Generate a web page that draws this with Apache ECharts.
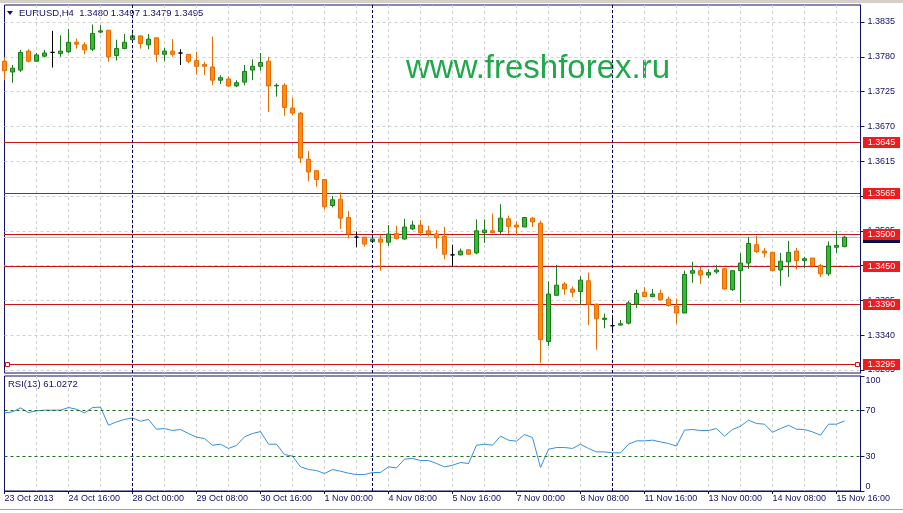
<!DOCTYPE html>
<html>
<head>
<meta charset="utf-8">
<title>EURUSD H4</title>
<script src="https://cdn.jsdelivr.net/npm/echarts@6.0.0/dist/echarts.min.js"></script>
<style>
  html, body { margin: 0; padding: 0; background: #fff; }
  #chart { width: 903px; height: 513px; }
</style>
</head>
<body>
<div id="chart"></div>
<script>
// trading days shown (H4 bars), the first day starts at 08:00
const days = ['23 Oct', '24 Oct', '25 Oct', '28 Oct', '29 Oct', '30 Oct', '31 Oct', '1 Nov', '4 Nov',
  '5 Nov', '6 Nov', '7 Nov', '8 Nov', '11 Nov', '12 Nov', '13 Nov', '14 Nov', '15 Nov'];
const hours = ['00:00', '04:00', '08:00', '12:00', '16:00', '20:00'];
const firstLabel = '23 Oct 2013';

const open = [1.3773, 1.3756, 1.3759, 1.3789, 1.3773, 1.3781, 1.3787, 1.3785, 1.3788, 1.3803,
  1.3799, 1.3792, 1.3819, 1.3822, 1.3782, 1.3793, 1.3807, 1.3813, 1.3799, 1.3810,
  1.3784, 1.3789, 1.3786, 1.3784, 1.3774, 1.3768, 1.3764, 1.3743, 1.3745, 1.3734,
  1.3740, 1.3759, 1.3765, 1.3773, 1.3734, 1.3735, 1.3699, 1.3691, 1.3618, 1.3600,
  1.3586, 1.3545, 1.3555, 1.3526, 1.3495, 1.3495, 1.3488, 1.3492, 1.3487, 1.3501,
  1.3492, 1.3508, 1.3514, 1.3505, 1.3500, 1.3496, 1.3467, 1.3467, 1.3475, 1.3470,
  1.3502, 1.3505, 1.3504, 1.3524, 1.3514, 1.3511, 1.3525, 1.3517, 1.3330, 1.3403,
  1.3421, 1.3413, 1.3409, 1.3426, 1.3389, 1.3365, 1.3355, 1.3356, 1.3359, 1.3389,
  1.3408, 1.3401, 1.3406, 1.3397, 1.3386, 1.3375, 1.3438, 1.3442, 1.3435, 1.3440,
  1.3445, 1.3412, 1.3442, 1.3454, 1.3483, 1.3473, 1.3471, 1.3443, 1.3456, 1.3473,
  1.3458, 1.3462, 1.3450, 1.3437, 1.3479, 1.3480];
const high = [1.3778, 1.3767, 1.3791, 1.3792, 1.3786, 1.3791, 1.3821, 1.3814, 1.3824, 1.3809,
  1.3803, 1.3831, 1.3830, 1.3822, 1.3807, 1.3816, 1.3818, 1.3814, 1.3816, 1.3810,
  1.3794, 1.3808, 1.3792, 1.3784, 1.3788, 1.3772, 1.3812, 1.3751, 1.3749, 1.3743,
  1.3767, 1.3776, 1.3786, 1.3780, 1.3738, 1.3738, 1.3715, 1.3693, 1.3631, 1.3600,
  1.3586, 1.3560, 1.3566, 1.3536, 1.3504, 1.3495, 1.3498, 1.3498, 1.3514, 1.3513,
  1.3524, 1.3521, 1.3522, 1.3513, 1.3506, 1.3511, 1.3483, 1.3477, 1.3476, 1.3523,
  1.3523, 1.3532, 1.3547, 1.3529, 1.3520, 1.3526, 1.3527, 1.3521, 1.3425, 1.3451,
  1.3424, 1.3417, 1.3433, 1.3439, 1.3390, 1.3374, 1.3368, 1.3364, 1.3394, 1.3412,
  1.3416, 1.3413, 1.3412, 1.3401, 1.3398, 1.3442, 1.3456, 1.3448, 1.3444, 1.3451,
  1.3445, 1.3442, 1.3470, 1.3495, 1.3497, 1.3478, 1.3471, 1.3470, 1.3489, 1.3478,
  1.3464, 1.3462, 1.3453, 1.3488, 1.3505, 1.3497];
const low = [1.3743, 1.3739, 1.3756, 1.3771, 1.3772, 1.3779, 1.3763, 1.3780, 1.3786, 1.3793,
  1.3784, 1.3789, 1.3817, 1.3772, 1.3774, 1.3792, 1.3806, 1.3793, 1.3792, 1.3772,
  1.3773, 1.3780, 1.3767, 1.3770, 1.3752, 1.3751, 1.3735, 1.3737, 1.3732, 1.3732,
  1.3735, 1.3743, 1.3758, 1.3693, 1.3717, 1.3687, 1.3688, 1.3612, 1.3583, 1.3575,
  1.3539, 1.3542, 1.3508, 1.3493, 1.3479, 1.3480, 1.3487, 1.3442, 1.3481, 1.3491,
  1.3491, 1.3506, 1.3497, 1.3496, 1.3477, 1.3460, 1.3448, 1.3466, 1.3467, 1.3468,
  1.3486, 1.3501, 1.3500, 1.3500, 1.3498, 1.3511, 1.3511, 1.3296, 1.3323, 1.3403,
  1.3404, 1.3400, 1.3388, 1.3356, 1.3317, 1.3351, 1.3343, 1.3355, 1.3357, 1.3383,
  1.3400, 1.3400, 1.3395, 1.3385, 1.3358, 1.3375, 1.3423, 1.3421, 1.3430, 1.3437,
  1.3412, 1.3410, 1.3391, 1.3445, 1.3470, 1.3463, 1.3442, 1.3418, 1.3432, 1.3444,
  1.3446, 1.3447, 1.3432, 1.3434, 1.3470, 1.3479];
const close = [1.3758, 1.3762, 1.3787, 1.3773, 1.3783, 1.3786, 1.3787, 1.3789, 1.3803, 1.3800,
  1.3791, 1.3817, 1.3821, 1.3780, 1.3793, 1.3803, 1.3813, 1.3801, 1.3808, 1.3784,
  1.3789, 1.3784, 1.3786, 1.3773, 1.3765, 1.3765, 1.3743, 1.3747, 1.3734, 1.3739,
  1.3757, 1.3765, 1.3771, 1.3734, 1.3735, 1.3700, 1.3691, 1.3620, 1.3598, 1.3586,
  1.3543, 1.3554, 1.3525, 1.3500, 1.3495, 1.3484, 1.3492, 1.3487, 1.3500, 1.3493,
  1.3511, 1.3514, 1.3502, 1.3500, 1.3494, 1.3468, 1.3467, 1.3473, 1.3468, 1.3505,
  1.3506, 1.3502, 1.3525, 1.3512, 1.3511, 1.3526, 1.3519, 1.3333, 1.3405, 1.3419,
  1.3413, 1.3408, 1.3427, 1.3389, 1.3366, 1.3367, 1.3355, 1.3358, 1.3391, 1.3406,
  1.3401, 1.3405, 1.3396, 1.3387, 1.3375, 1.3436, 1.3442, 1.3435, 1.3439, 1.3443,
  1.3413, 1.3442, 1.3454, 1.3485, 1.3472, 1.3470, 1.3442, 1.3457, 1.3471, 1.3458,
  1.3461, 1.3450, 1.3437, 1.3481, 1.3482, 1.3495];
const rsi = [67.9, 68.8, 72.3, 68.2, 69.7, 70.3, 70.3, 70.3, 72.6, 71.1,
  67.9, 72.6, 72.9, 57.2, 60.1, 62.2, 63.6, 60.7, 62.2, 53.7,
  54.3, 52.6, 53.5, 50.0, 46.8, 45.6, 39.8, 40.7, 37.0, 39.6,
  47.1, 50.0, 51.7, 40.7, 40.7, 31.7, 30.3, 21.0, 18.7, 17.8,
  15.2, 18.7, 17.2, 15.5, 14.3, 14.3, 16.1, 16.1, 21.0, 20.1,
  27.7, 28.3, 26.5, 26.5, 23.9, 21.0, 22.4, 24.8, 23.9, 39.8,
  40.7, 39.8, 47.7, 44.2, 43.3, 49.1, 46.5, 20.4, 36.3, 37.8,
  37.8, 37.0, 40.7, 37.0, 34.0, 34.0, 33.2, 33.2, 40.7, 43.6,
  43.6, 44.2, 42.7, 41.3, 39.0, 52.9, 53.5, 52.6, 52.6, 54.3,
  47.7, 53.5, 56.3, 61.6, 58.7, 58.1, 51.1, 54.3, 57.2, 53.7,
  53.5, 51.4, 48.5, 58.1, 58.1, 61.0272];

const priceTicks = [1.3835, 1.3780, 1.3725, 1.3670, 1.3615, 1.3560, 1.3505, 1.3450, 1.3395, 1.3340, 1.3285];
const rsiTicks = [0, 30, 70, 100];
const rsiLevels = [70, 30];
const levels = [1.3645, 1.3565, 1.3500, 1.3450, 1.3390, 1.3295];
const selectedLevel = 1.3295;
const weekStarts = ['28 Oct 00:00', '4 Nov 00:00', '11 Nov 00:00'];

// category labels, plus two empty slots for the chart shift on the right
const categories = [];
days.forEach((d, i) => {
  hours.forEach((h, j) => {
    if (i === 0 && j < 2) return;
    categories.push(d + ' ' + h);
  });
});
categories.push('', '');

const navy = '#10106a';
const font = 'Liberation Sans';
const last = open.length - 1;
const bid = close[last];

const candles = open.map((o, i) => [o, close[i], low[i], high[i]]);

const myChart = echarts.init(document.getElementById('chart'));

// horizontal price line with its price tag on the axis, snapped to a pixel row
const priceLines = (values, lineColor, tagColor, z) => ({
  type: 'custom',
  xAxisIndex: 0,
  yAxisIndex: 0,
  data: values.map((v) => [0, v]),
  encode: { x: 0, y: 1 },
  clip: false,
  silent: true,
  z: z,
  renderItem: (params, api) => {
    const cs = params.coordSys;
    const v = api.value(1);
    const y = Math.round(api.coord([0, v])[1]) + 0.5;
    const left = Math.floor(cs.x);
    const right = Math.floor(cs.x + cs.width);
    const children = [
      { type: 'line', shape: { x1: left, y1: y, x2: right, y2: y }, style: { stroke: lineColor, lineWidth: 1 } },
      { type: 'rect', shape: { x: right + 3, y: y - 5.5, width: 37, height: 11 }, style: { fill: tagColor } },
      {
        type: 'text', x: right + 21.5, y: y + 0.5,
        style: { text: v.toFixed(4), fill: '#fff', font: '9px "Liberation Sans"', align: 'center', verticalAlign: 'middle' }
      }
    ];
    if (v === selectedLevel) {
      children.push(
        { type: 'rect', shape: { x: left + 1.5, y: y - 2, width: 4, height: 4 }, style: { fill: '#fff', stroke: lineColor, lineWidth: 1 } },
        { type: 'rect', shape: { x: right - 4.5, y: y - 2, width: 4, height: 4 }, style: { fill: '#fff', stroke: lineColor, lineWidth: 1 } }
      );
    }
    return { type: 'group', children: children };
  }
});

const separators = () => weekStarts.map((d) => ({
  xAxis: d,
  lineStyle: { color: '#000050', type: [3, 2], width: 1 },
  label: { show: false }
}));

const xBase = {
  type: 'category',
  data: categories,
  boundaryGap: false,
  axisLine: { show: false },
  axisTick: { show: false },
  axisLabel: { show: false },
  splitLine: {
    show: true,
    interval: (i) => i > 0 && i % 4 === 0,
    lineStyle: { color: '#cfcfcf', type: [3, 3] }
  }
};

const option = {
  animation: false,
  backgroundColor: '#fff',
  grid: [
    { left: 4.5, top: 5, width: 856, height: 368, show: true, borderColor: navy, borderWidth: 1, backgroundColor: '#fff' },
    { left: 4.5, top: 376, width: 856, height: 115, show: true, borderColor: navy, borderWidth: 1, backgroundColor: '#fff' }
  ],
  xAxis: [
    Object.assign({ gridIndex: 0 }, xBase),
    Object.assign({}, xBase, {
      gridIndex: 1,
      axisLine: { show: true, lineStyle: { color: navy } },
      axisTick: { show: true, interval: 7, length: 3, inside: false, lineStyle: { color: navy } },
      axisLabel: {
        show: true, interval: 7, align: 'left', margin: 3,
        color: navy, fontFamily: font, fontSize: 9,
        formatter: (v, i) => (i === 0 ? firstLabel : v)
      }
    })
  ],
  yAxis: [
    {
      gridIndex: 0, type: 'value', position: 'right',
      min: 1.328026, max: 1.386187,
      axisLine: { show: true, lineStyle: { color: navy } },
      axisTick: { show: true, length: 4, customValues: priceTicks, lineStyle: { color: navy } },
      axisLabel: {
        customValues: priceTicks, margin: 7, color: navy, fontFamily: font, fontSize: 9,
        formatter: (v) => v.toFixed(4)
      },
      splitLine: { show: true, lineStyle: { color: '#cfcfcf', type: [3, 3] } }
    },
    {
      gridIndex: 1, type: 'value', position: 'right',
      min: 0, max: 100,
      axisLine: { show: true, lineStyle: { color: navy } },
      axisTick: { show: true, length: 4, customValues: rsiTicks, lineStyle: { color: navy } },
      axisLabel: {
        customValues: rsiTicks, margin: 5, color: navy, fontFamily: font, fontSize: 9,
        verticalAlignMinLabel: 'bottom', verticalAlignMaxLabel: 'top'
      },
      splitLine: { show: false }
    }
  ],
  series: [
    priceLines([bid], '#c4c4c4', '#0a0a50', 1),
    priceLines(levels, '#c81414', '#ee1c1c', 1),
    {
      name: 'EURUSD',
      type: 'candlestick',
      xAxisIndex: 0,
      yAxisIndex: 0,
      data: candles,
      barWidth: 4,
      z: 2,
      itemStyle: {
        color: '#33bb33',
        color0: '#ff8a14',
        borderColor: '#1c7a1c',
        borderColor0: '#e46c00',
        borderColorDoji: '#000000',
        borderWidth: 1
      },
      markLine: {
        silent: true,
        symbol: ['none', 'none'],
        data: separators()
      }
    },
    {
      name: 'RSI(13)',
      type: 'line',
      xAxisIndex: 1,
      yAxisIndex: 1,
      data: rsi,
      showSymbol: false,
      lineStyle: { color: '#3590dc', width: 1 },
      markLine: {
        silent: true,
        symbol: ['none', 'none'],
        data: rsiLevels.map((v) => ({
          yAxis: v,
          lineStyle: { color: '#1e6b1e', type: [3, 3], width: 1 },
          label: { show: false }
        })).concat(separators())
      }
    }
  ],
  graphic: [
    { type: 'rect', shape: { x: 0, y: 0, width: 903, height: 3 }, style: { fill: '#d4d0c8' }, silent: true },
    { type: 'polygon', shape: { points: [[7, 11], [13, 11], [10, 15]] }, style: { fill: navy }, silent: true },
    {
      type: 'text', x: 19, y: 13.5, silent: true,
      style: {
        text: 'EURUSD,H4  ' + [open[last], high[last], low[last], close[last]].map((v) => v.toFixed(4)).join(' '),
        fill: navy, font: '9.5px "Liberation Sans"', verticalAlign: 'middle'
      }
    },
    {
      type: 'text', x: 406, y: 69, silent: true,
      style: { text: 'www.freshforex.ru', fill: '#1fa84a', font: '33px "Liberation Sans"', verticalAlign: 'middle' }
    },
    {
      type: 'text', x: 8, y: 384.5, silent: true,
      style: { text: 'RSI(13) ' + rsi[last].toFixed(4), fill: navy, font: '9.5px "Liberation Sans"', verticalAlign: 'middle' }
    },
    { type: 'rect', shape: { x: 0, y: 509, width: 903, height: 1 }, style: { fill: '#a0a0a0' }, silent: true }
  ]
};

myChart.setOption(option);
window.addEventListener('resize', () => {
  myChart.resize();
});
</script>
</body>
</html>
